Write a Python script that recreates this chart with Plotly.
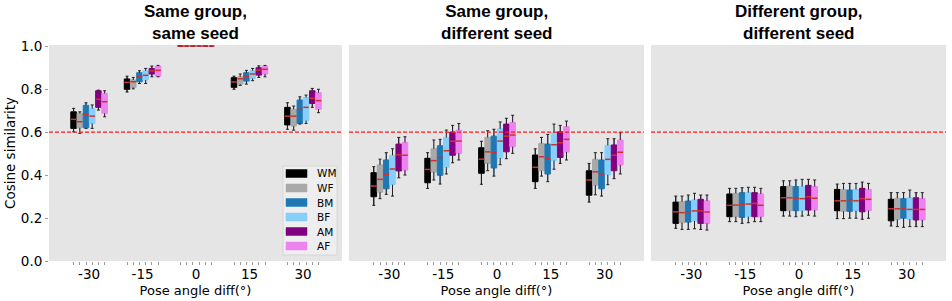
import plotly.graph_objects as go

# ---------------- data ----------------
ANGLES = ["-30", "-15", "0", "15", "30"]
SERIES = ["WM", "WF", "BM", "BF", "AM", "AF"]
COLORS = ["#000000", "#a9a9a9", "#1f78b4", "#87cefa", "#800080", "#ee82ee"]
PANEL_TITLES = ["Same group,<br>same seed", "Same group,<br>different seed",
                "Different group,<br>different seed"]
X_TITLE = "Pose angle diff(°)"
Y_TITLE = "Cosine similarity"
THRESHOLD = 0.6
Y_TICKS = [0.0, 0.2, 0.4, 0.6, 0.8, 1.0]

# Panel 1: same group, same seed  (rows = SERIES, cols = ANGLES)
SS_LO = [[0.601, 0.786, 1.0, 0.799, 0.613],
         [0.594, 0.801, 1.0, 0.817, 0.609],
         [0.617, 0.826, 1.0, 0.823, 0.637],
         [0.617, 0.826, 1.0, 0.839, 0.640],
         [0.702, 0.857, 1.0, 0.854, 0.715],
         [0.671, 0.857, 1.0, 0.857, 0.690]]
SS_Q1 = [[0.617, 0.799, 1.0, 0.808, 0.633],
         [0.620, 0.808, 1.0, 0.823, 0.628],
         [0.620, 0.834, 1.0, 0.837, 0.640],
         [0.640, 0.842, 1.0, 0.850, 0.653],
         [0.715, 0.870, 1.0, 0.865, 0.733],
         [0.687, 0.860, 1.0, 0.870, 0.706]]
SS_MED = [[0.659, 0.831, 1.0, 0.833, 0.674],
          [0.648, 0.834, 1.0, 0.848, 0.674],
          [0.682, 0.857, 1.0, 0.857, 0.706],
          [0.674, 0.864, 1.0, 0.870, 0.715],
          [0.752, 0.885, 1.0, 0.888, 0.757],
          [0.741, 0.887, 1.0, 0.892, 0.746]]
SS_Q3 = [[0.694, 0.847, 1.0, 0.853, 0.715],
         [0.687, 0.842, 1.0, 0.857, 0.706],
         [0.724, 0.876, 1.0, 0.876, 0.749],
         [0.710, 0.885, 1.0, 0.885, 0.761],
         [0.792, 0.896, 1.0, 0.899, 0.792],
         [0.780, 0.907, 1.0, 0.907, 0.783]]
SS_HI = [[0.710, 0.860, 1.0, 0.860, 0.736],
         [0.694, 0.854, 1.0, 0.870, 0.721],
         [0.736, 0.885, 1.0, 0.887, 0.764],
         [0.726, 0.896, 1.0, 0.896, 0.772],
         [0.795, 0.907, 1.0, 0.908, 0.803],
         [0.792, 0.910, 1.0, 0.910, 0.799]]

# Panel 2: same group, different seed
SD_LO = [[0.259, 0.338, 0.357, 0.338, 0.274],
         [0.290, 0.377, 0.420, 0.395, 0.308],
         [0.310, 0.358, 0.395, 0.369, 0.302],
         [0.302, 0.405, 0.448, 0.427, 0.355],
         [0.387, 0.457, 0.476, 0.454, 0.383],
         [0.400, 0.470, 0.501, 0.470, 0.405]]
SD_Q1 = [[0.299, 0.364, 0.408, 0.369, 0.306],
         [0.320, 0.414, 0.454, 0.420, 0.353],
         [0.336, 0.399, 0.433, 0.405, 0.336],
         [0.355, 0.436, 0.479, 0.467, 0.401],
         [0.419, 0.492, 0.508, 0.482, 0.420],
         [0.423, 0.501, 0.532, 0.507, 0.447]]
SD_MED = [[0.349, 0.426, 0.474, 0.436, 0.377],
          [0.380, 0.467, 0.508, 0.485, 0.415],
          [0.403, 0.482, 0.504, 0.476, 0.405],
          [0.428, 0.513, 0.558, 0.541, 0.473],
          [0.494, 0.557, 0.581, 0.550, 0.492],
          [0.492, 0.558, 0.586, 0.566, 0.506]]
SD_Q3 = [[0.411, 0.478, 0.527, 0.493, 0.420],
         [0.447, 0.522, 0.575, 0.547, 0.473],
         [0.470, 0.536, 0.581, 0.544, 0.470],
         [0.492, 0.575, 0.615, 0.597, 0.538],
         [0.544, 0.600, 0.637, 0.601, 0.540],
         [0.552, 0.609, 0.645, 0.625, 0.563]]
SD_HI = [[0.439, 0.504, 0.557, 0.522, 0.454],
         [0.474, 0.563, 0.606, 0.575, 0.504],
         [0.504, 0.566, 0.613, 0.589, 0.504],
         [0.522, 0.609, 0.647, 0.637, 0.569],
         [0.575, 0.631, 0.664, 0.631, 0.569],
         [0.578, 0.640, 0.678, 0.651, 0.597]]

# Panel 3: different group, different seed
DD_LO = [[0.152, 0.183, 0.209, 0.197, 0.163],
         [0.147, 0.183, 0.209, 0.197, 0.160],
         [0.147, 0.175, 0.206, 0.199, 0.157],
         [0.150, 0.178, 0.209, 0.199, 0.160],
         [0.147, 0.183, 0.213, 0.194, 0.160],
         [0.144, 0.183, 0.209, 0.199, 0.160]]
DD_Q1 = [[0.175, 0.206, 0.234, 0.234, 0.187],
         [0.178, 0.206, 0.234, 0.231, 0.194],
         [0.181, 0.203, 0.234, 0.231, 0.199],
         [0.186, 0.206, 0.234, 0.234, 0.194],
         [0.175, 0.206, 0.237, 0.229, 0.191],
         [0.175, 0.206, 0.237, 0.234, 0.191]]
DD_MED = [[0.229, 0.259, 0.294, 0.280, 0.243],
          [0.225, 0.260, 0.294, 0.280, 0.243],
          [0.229, 0.264, 0.292, 0.284, 0.243],
          [0.233, 0.265, 0.290, 0.280, 0.240],
          [0.233, 0.268, 0.299, 0.290, 0.240],
          [0.228, 0.259, 0.292, 0.287, 0.240]]
DD_Q3 = [[0.274, 0.312, 0.346, 0.333, 0.287],
         [0.276, 0.315, 0.349, 0.333, 0.292],
         [0.279, 0.318, 0.346, 0.330, 0.290],
         [0.284, 0.318, 0.346, 0.333, 0.294],
         [0.287, 0.318, 0.352, 0.338, 0.294],
         [0.280, 0.312, 0.346, 0.333, 0.290]]
DD_HI = [[0.302, 0.338, 0.373, 0.358, 0.318],
         [0.302, 0.338, 0.373, 0.361, 0.318],
         [0.307, 0.341, 0.377, 0.361, 0.318],
         [0.315, 0.343, 0.380, 0.361, 0.330],
         [0.307, 0.343, 0.380, 0.367, 0.318],
         [0.307, 0.338, 0.377, 0.361, 0.318]]

PANELS = [
    (SS_LO, SS_Q1, SS_MED, SS_Q3, SS_HI),
    (SD_LO, SD_Q1, SD_MED, SD_Q3, SD_HI),
    (DD_LO, DD_Q1, DD_MED, DD_Q3, DD_HI),
]

# ---------------- layout constants ----------------
W, H = 952, 301
FONT = "DejaVu Sans, sans-serif"
TITLE_FONT = "Liberation Sans, Arial, sans-serif"
PITCH = 0.116      # distance between neighbouring boxes (data units)
BW = 0.104         # box width (data units)
CAP = 0.028        # half width of whisker caps
MED_COLOR = "#d0312d"
WHISK_COLOR = "#222222"
PANEL_BG = "#e5e5e5"
X_DOMAINS_PX = [(49, 342), (349, 644), (651, 946)]
Y_TOP_PX, Y_BOT_PX = 45, 261
X_RANGE = [-0.75, 4.73]
Y_RANGE = [0, 1.005]


def px_x(p):
    return p / W


def px_y(p):
    return 1 - p / H


fig = go.Figure()
group_pos = list(range(len(ANGLES)))

for pi, stats in enumerate(PANELS):
    lo, q1, med, q3, hi = stats
    ax = "" if pi == 0 else str(pi + 1)
    xref, yref = "x" + ax, "y" + ax
    for si, name in enumerate(SERIES):
        xs = [g + (si - 2.5) * PITCH for g in group_pos]
        fig.add_trace(go.Box(
            x=xs, q1=q1[si], median=med[si], q3=q3[si],
            lowerfence=lo[si], upperfence=hi[si],
            orientation="v", width=BW, whiskerwidth=0,
            fillcolor=COLORS[si], line=dict(color=COLORS[si], width=1),
            boxpoints=False, name=name, showlegend=False,
            hoverinfo="skip", xaxis=xref, yaxis=yref))
        # whiskers + caps (black)
        wx, wy = [], []
        for k, x in enumerate(xs):
            wx += [x, x, None, x, x, None, x - CAP, x + CAP, None, x - CAP, x + CAP, None]
            wy += [lo[si][k], q1[si][k], None, q3[si][k], hi[si][k], None,
                   lo[si][k], lo[si][k], None, hi[si][k], hi[si][k], None]
        fig.add_trace(go.Scatter(x=wx, y=wy, mode="lines",
                                 line=dict(color=WHISK_COLOR, width=1),
                                 showlegend=False, hoverinfo="skip",
                                 xaxis=xref, yaxis=yref))
        # medians (red)
        mx, my = [], []
        for k, x in enumerate(xs):
            mx += [x - BW / 2, x + BW / 2, None]
            my += [med[si][k], med[si][k], None]
        fig.add_trace(go.Scatter(x=mx, y=my, mode="lines",
                                 line=dict(color=MED_COLOR, width=1.5),
                                 showlegend=False, hoverinfo="skip",
                                 xaxis=xref, yaxis=yref))

    minor_vals = [g + (si - 2.5) * PITCH for g in group_pos for si in range(len(SERIES))]
    x0, x1 = X_DOMAINS_PX[pi]
    fig.layout["xaxis" + ax] = dict(
        domain=[px_x(x0), px_x(x1)], range=X_RANGE, anchor=yref,
        tickmode="array", tickvals=group_pos, ticktext=ANGLES, ticks="",
        ticklabelstandoff=3,
        minor=dict(tickmode="array", tickvals=minor_vals, ticks="outside",
                   ticklen=3, tickwidth=1, tickcolor="#9a9a9a", showgrid=False),
        showgrid=False, zeroline=False, showline=False,
        tickfont=dict(family=FONT, size=13.5, color="#000"),
        title=dict(text=X_TITLE, font=dict(family=FONT, size=13, color="#000"), standoff=5),
        automargin=False, fixedrange=True)
    fig.layout["yaxis" + ax] = dict(
        domain=[px_y(Y_BOT_PX), px_y(Y_TOP_PX)], range=Y_RANGE, anchor=xref,
        tickmode="array", tickvals=Y_TICKS, tickformat=".1f",
        ticks="outside" if pi == 0 else "", ticklen=3, tickcolor="#9a9a9a",
        showticklabels=(pi == 0), showgrid=False, zeroline=False, showline=False,
        tickfont=dict(family=FONT, size=13.5, color="#000"),
        automargin=False, fixedrange=True)

    # threshold line
    fig.add_shape(type="line", xref=xref + " domain", yref=yref,
                  x0=0, x1=1, y0=THRESHOLD, y1=THRESHOLD, layer="above",
                  line=dict(color="#ff1a1a", width=1.2, dash="4px,2px"))
    # panel title
    fig.add_annotation(text="<b>" + PANEL_TITLES[pi] + "</b>", xref="paper", yref="paper",
                       x=px_x((x0 + x1) / 2), y=px_y(23), xanchor="center", yanchor="middle",
                       showarrow=False, font=dict(family=TITLE_FONT, size=17, color="#000"))

# y-axis title
fig.add_annotation(text=Y_TITLE, xref="paper", yref="paper", x=px_x(10), y=px_y(153),
                   xanchor="center", yanchor="middle", textangle=-90, showarrow=False,
                   font=dict(family=FONT, size=13.5, color="#000"))

# manual legend in panel 1
LEG_BOX = (283, 166, 337, 255)
fig.add_shape(type="rect", xref="paper", yref="paper",
              x0=px_x(LEG_BOX[0]), x1=px_x(LEG_BOX[2]),
              y0=px_y(LEG_BOX[3]), y1=px_y(LEG_BOX[1]),
              fillcolor="rgba(255,255,255,0.35)", line=dict(color="#d6d6d6", width=1),
              layer="above")
for si, name in enumerate(SERIES):
    cy = 173.5 + si * 14.5
    fig.add_shape(type="rect", xref="paper", yref="paper",
                  x0=px_x(286), x1=px_x(307), y0=px_y(cy + 4), y1=px_y(cy - 4),
                  fillcolor=COLORS[si], line=dict(color=COLORS[si], width=0.5),
                  layer="above")
    fig.add_annotation(text=name, xref="paper", yref="paper", x=px_x(315), y=px_y(cy),
                       xanchor="left", yanchor="middle", showarrow=False,
                       font=dict(family=FONT, size=10.5, color="#000"))

fig.update_layout(
    width=W, height=H, margin=dict(l=0, r=0, t=0, b=0),
    paper_bgcolor="white", plot_bgcolor=PANEL_BG,
    showlegend=False, boxmode="overlay",
)

# remove the default 8px page margin so the figure fills the window exactly
fig.write_html("out.html",
               config={"displayModeBar": False, "staticPlot": True},
               post_script="document.body.style.margin='0';document.body.style.overflow='hidden';")
